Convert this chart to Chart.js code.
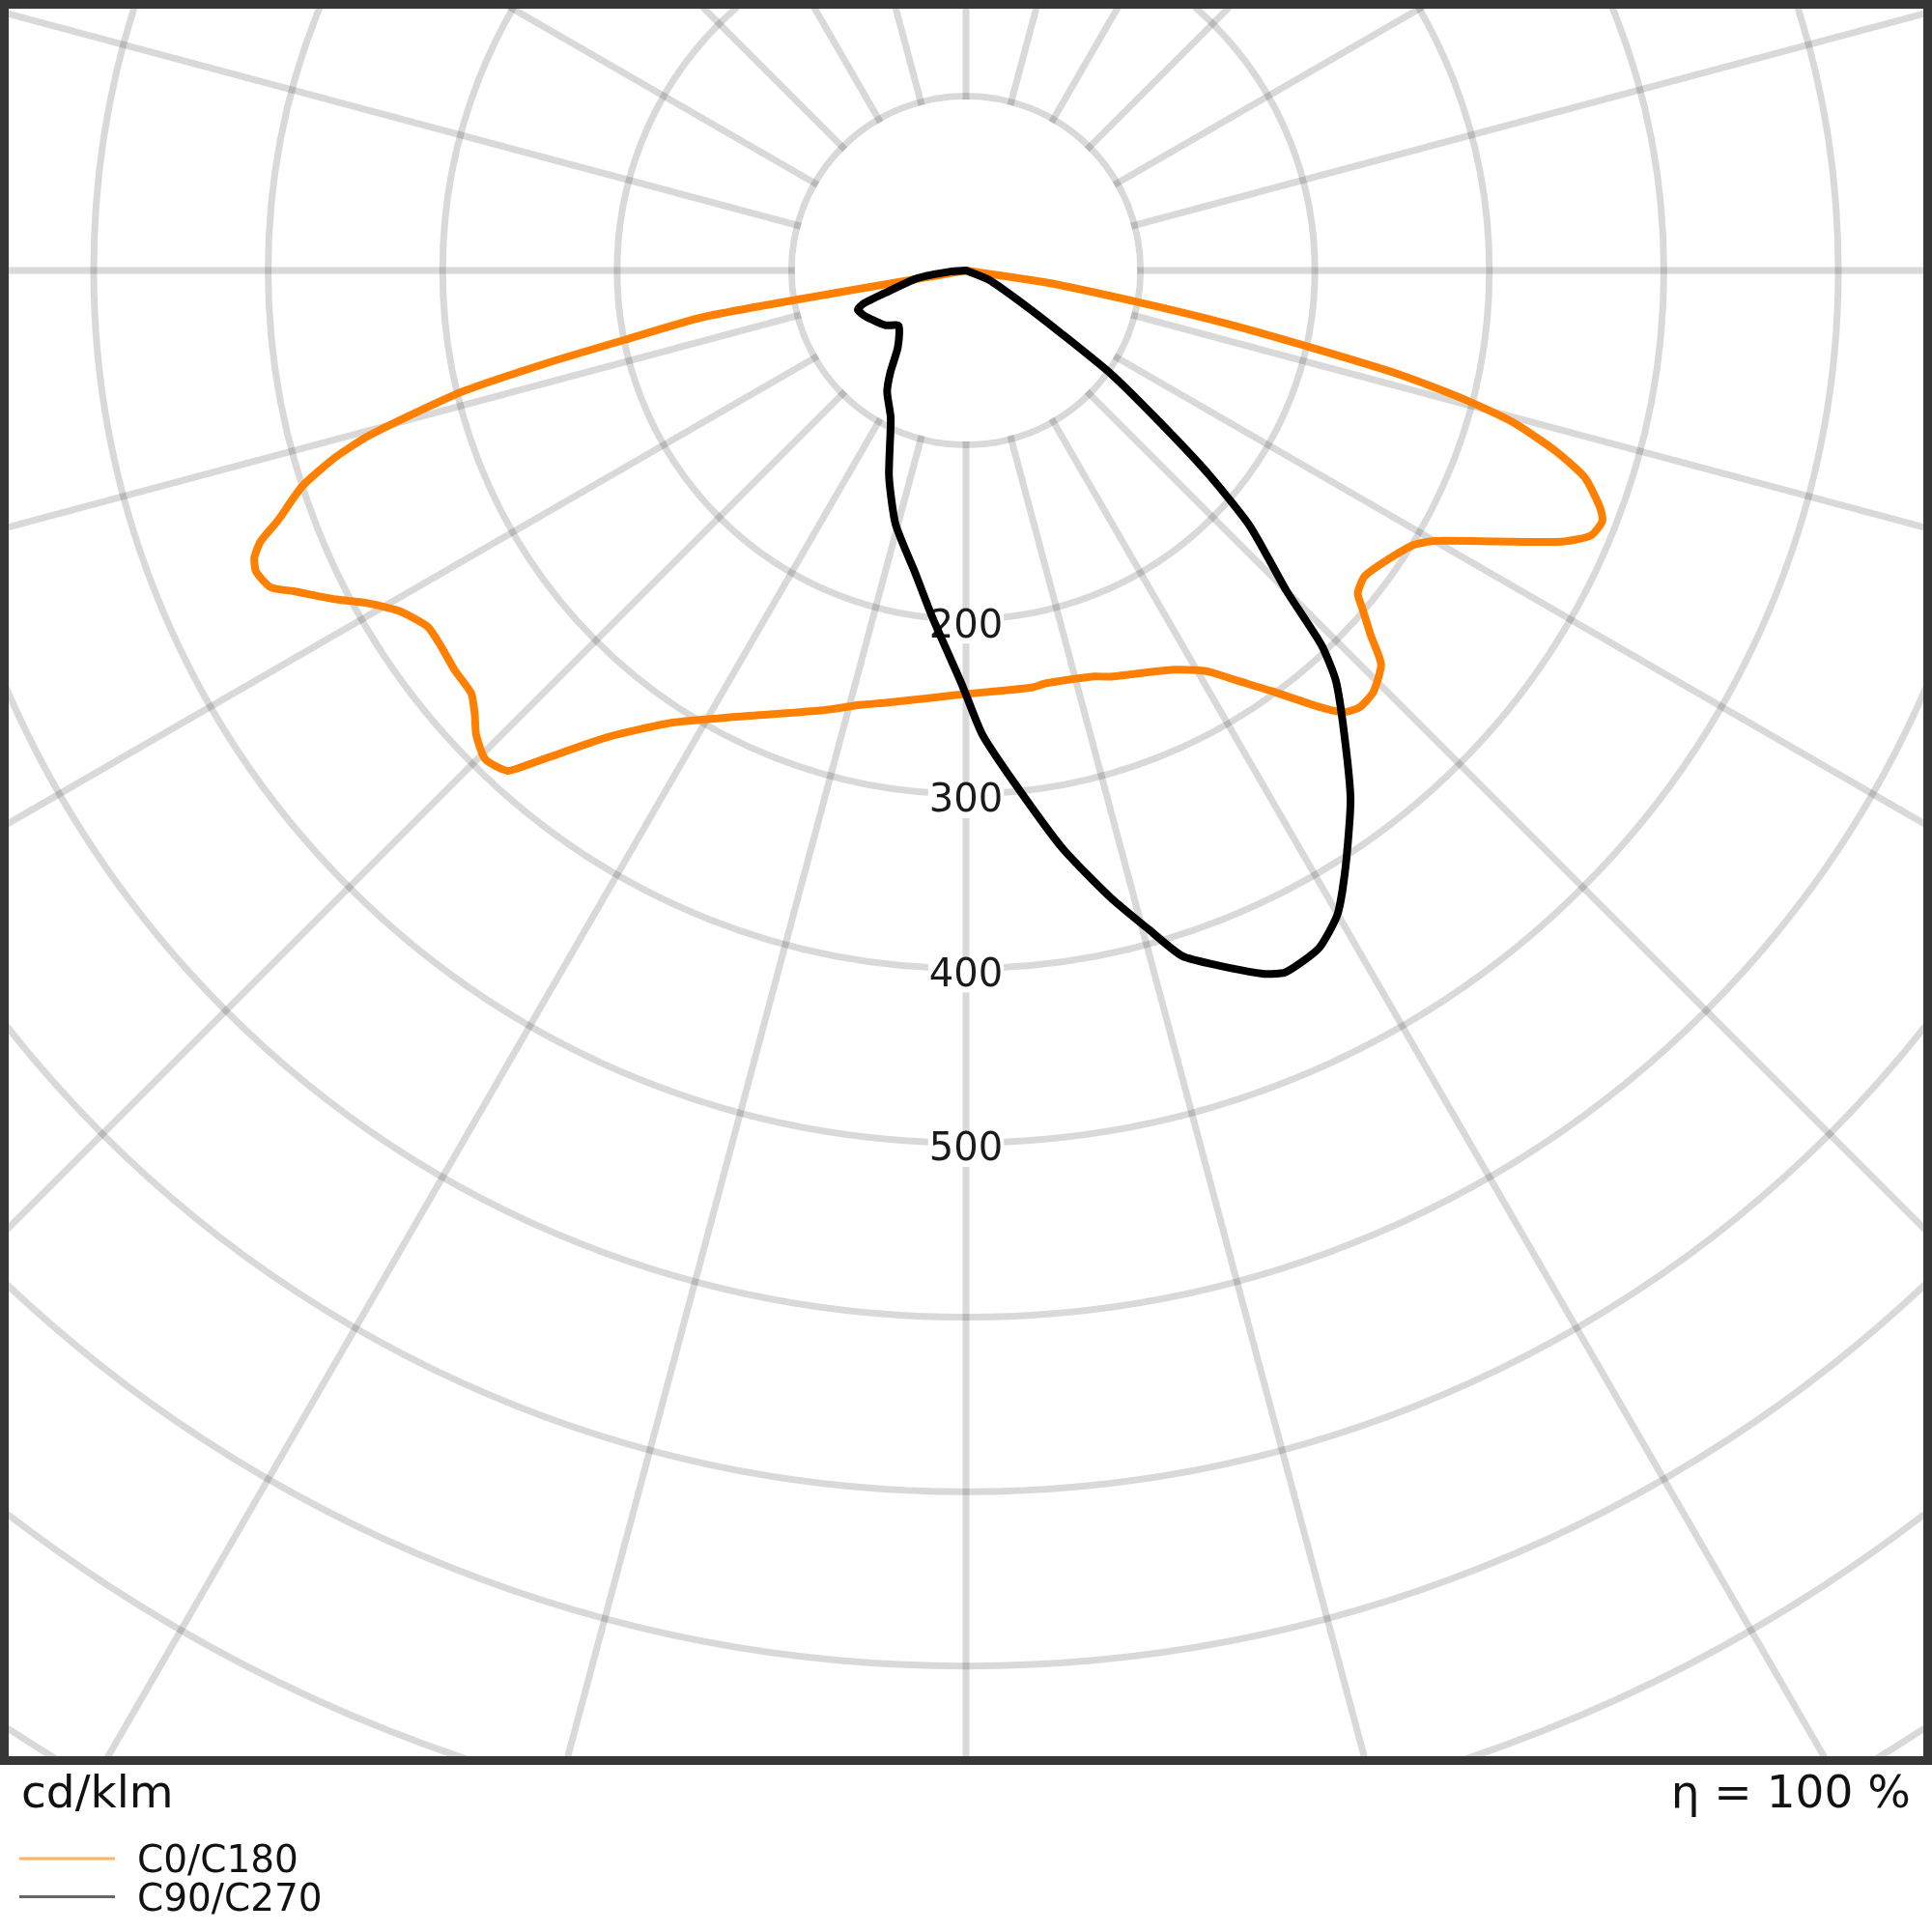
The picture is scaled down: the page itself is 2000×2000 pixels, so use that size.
<!DOCTYPE html>
<html lang="en">
<head>
  <meta charset="UTF-8" />
  <title>LDC</title>
  <style>
    body {
      margin: 0;
      background: #fff;
    }
    canvas {
      display: block;
    }
  </style>
</head>
<body>
  <canvas id="ldc" width="2000" height="2000"></canvas>

  <script src="https://cdn.jsdelivr.net/npm/chart.js"></script>
<script>
  // gamma = degrees from nadir, negative = left half (C180 / C270), positive = right half (C0 / C90)
  const c0Gamma = [-82, -80, -78.5, -77.5, -76.5, -75.5, -74.5, -73.5, -72, -70, -69, -68, -67, -65.5, -64.5,
    -62.5, -61, -59, -56.5, -54.5, -52, -49.5, -48, -46.5, -44.5, -42.5, -41.5, -40, -37.5, -33, -27,
    -18, -13.5, -10.5, -0.5, 9, 11, 17.5, 19.5, 27.5, 31, 33.5, 36, 39, 40.5, 42, 44, 46.5, 48, 49.5,
    50.5, 52.5, 55.5, 58.5, 60, 63, 65.5, 67, 68.5, 69.5, 71.5, 73, 74.5, 75.5, 76.5, 77.5, 78.5, 79.5, 81.5, 83];
  const c0Values = [0, 150, 200, 248, 296, 326, 356, 377, 400, 420, 433, 440, 442, 438, 427,
    408, 393, 379, 370, 370, 372, 373, 379, 387, 393, 389, 378, 361, 337, 309, 287,
    265, 256, 252, 243, 242, 241, 244, 247, 258, 268, 282, 298, 322, 333, 337, 336, 328, 312, 299,
    291, 288, 293, 301, 310, 342, 375, 389, 392, 388, 374, 353, 325, 295, 256, 198, 151, 103, 46, 0];

  const c90Gamma = [-88, -86, -81, -74.5, -72, -70, -65, -56, -50.5, -41.5, -36.5, -33, -27, -20.5, -15.5,
    -9.5, -5.5, -0.5, 2, 5.5, 9.5, 13, 15.5, 17.5, 20, 23, 24.5, 27.5, 30, 32.5, 36, 39, 42, 43.5,
    45, 48, 50, 52, 54.5, 56.5, 60, 68, 78];
  const c90Values = [0, 9, 28, 48, 62, 66, 63, 56, 50, 59, 73, 83, 95, 126, 151,
    176, 200, 238, 266, 296, 336, 369, 392, 412, 424, 438, 442, 438, 426, 405, 375, 345, 317, 296,
    260, 219, 181, 140, 102, 66, 36, 14, 0];

  const ringLabels = [200, 300, 400, 500];
  const seriesNames = ['C0/C180', 'C90/C270'];
  const seriesColors = ['#ff8000', '#000000'];
  const unitText = 'cd/klm';
  const etaText = 'η = 100 %';

  const STEP = 0.5;
  const angleLabels = Array.from({ length: 720 }, (_, i) => i * STEP);

  function toRadar(gammas, values) {
    const out = new Array(angleLabels.length).fill(null);
    gammas.forEach((g, i) => {
      const idx = Math.round(((-g / STEP) % 720 + 720) % 720);
      out[idx] = values[i];
    });
    return out;
  }

  const GRID = 'rgba(0,0,0,0.15)';

  const ldcPlugin = {
    id: 'ldcFrame',
    beforeDraw(chart) {
      const { ctx, chartArea: a } = chart;
      ctx.save();
      ctx.beginPath();
      ctx.rect(a.left, a.top, a.right - a.left, a.bottom - a.top);
      ctx.clip();
    },
    beforeDatasetsDraw(chart) {
      const ctx = chart.ctx;
      const r = chart.scales.r;
      // no spokes inside the first ring
      ctx.fillStyle = '#fff';
      ctx.beginPath();
      ctx.arc(r.xCenter, r.yCenter, r.getDistanceFromCenterForValue(100) - 3.5, 0, Math.PI * 2);
      ctx.fill();

      ctx.font = '40px "DejaVu Sans"';
      ctx.textAlign = 'center';
      ctx.textBaseline = 'middle';
      ringLabels.forEach(v => {
        const p = r.getPointPositionForValue(0, v);
        const txt = String(v);
        const w = ctx.measureText(txt).width;
        ctx.fillStyle = '#fff';
        ctx.fillRect(p.x - w / 2 - 1, p.y + 7 - 18, w + 2, 36);
        ctx.fillStyle = '#1a1a1a';
        ctx.fillText(txt, p.x, p.y + 8);
      });
    },
    afterDraw(chart) {
      const ctx = chart.ctx;
      const a = chart.chartArea;
      ctx.restore();

      ctx.save();
      ctx.strokeStyle = '#363636';
      ctx.lineWidth = 9;
      ctx.strokeRect(a.left - 4.5, a.top - 4.5, a.right - a.left + 9, a.bottom - a.top + 9);

      ctx.fillStyle = '#111';
      ctx.textBaseline = 'alphabetic';
      ctx.font = '47px "DejaVu Sans"';
      ctx.textAlign = 'left';
      ctx.fillText(unitText, 22, 1871);
      ctx.textAlign = 'right';
      ctx.fillText(etaText, 1978, 1871);

      ctx.font = '39px "DejaVu Sans"';
      ctx.textAlign = 'left';
      chart.data.datasets.forEach((ds, i) => {
        const y = 1924 + i * 39.5;
        ctx.globalAlpha = 0.6;
        ctx.strokeStyle = ds.borderColor;
        ctx.lineWidth = 3;
        ctx.beginPath();
        ctx.moveTo(20, y);
        ctx.lineTo(119, y);
        ctx.stroke();
        ctx.globalAlpha = 1;
        ctx.fillStyle = '#111';
        ctx.fillText(ds.label, 142, y + 14);
      });
      ctx.restore();
    }
  };

  new Chart(document.getElementById('ldc'), {
    type: 'radar',
    data: {
      labels: angleLabels,
      datasets: [
        {
          label: seriesNames[0],
          data: toRadar(c0Gamma, c0Values),
          borderColor: seriesColors[0],
          borderWidth: 8,
          order: 1
        },
        {
          label: seriesNames[1],
          data: toRadar(c90Gamma, c90Values),
          borderColor: seriesColors[1],
          borderWidth: 8,
          order: 0
        }
      ]
    },
    options: {
      responsive: false,
      animation: false,
      events: [],
      layout: { padding: { left: 9, top: 9, right: 9, bottom: 182 } },
      elements: {
        point: { radius: 0, hitRadius: 0, hoverRadius: 0 },
        line: { fill: false, spanGaps: true, tension: 0.2, borderJoinStyle: 'round', borderCapStyle: 'round' }
      },
      datasets: { radar: { spanGaps: true, tension: 0.2 } },
      plugins: {
        legend: { display: false },
        tooltip: { enabled: false }
      },
      scales: {
        r: {
          min: 0,
          max: 1100,
          startAngle: 180,
          ticks: { display: false, stepSize: 100 },
          pointLabels: { display: false },
          grid: { circular: true, color: GRID, lineWidth: 7 },
          angleLines: {
            display: true,
            color: GRID,
            lineWidth: ctx => (ctx.index % 30 === 0 ? 7 : 0)
          },
          afterFit: scale => {
            scale.xCenter = 1000;
            scale.yCenter = 280;
            scale.drawingArea = 1100 * 1.806;
          }
        }
      }
    },
    plugins: [ldcPlugin]
  });
</script>
</body>
</html>
